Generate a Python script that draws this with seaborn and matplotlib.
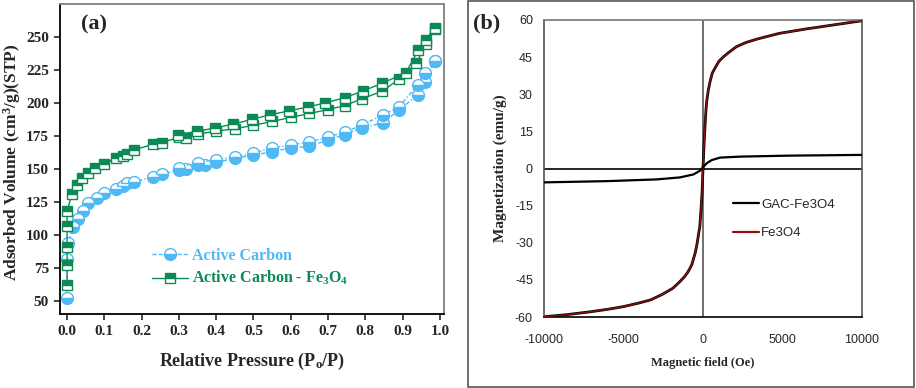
import numpy as np
import pandas as pd
import matplotlib
matplotlib.use("Agg")
import matplotlib.pyplot as plt
import seaborn as sns
from matplotlib.lines import Line2D
from matplotlib.patches import Rectangle

# ---- panel (a) : N2 isotherms ----
ac_p_ads = [0.0, 0.0, 0.003, 0.016, 0.03, 0.043, 0.057, 0.08, 0.10, 0.13, 0.15, 0.16, 0.18,
            0.23, 0.255, 0.30, 0.32, 0.35, 0.37, 0.40, 0.45, 0.50, 0.55, 0.60, 0.65, 0.70,
            0.745, 0.79, 0.847, 0.89, 0.94, 0.96, 0.987]
ac_v_ads = [52, 82, 94, 106, 112, 118, 124, 128, 132, 135, 137, 139, 140,
            144, 146, 149.5, 150, 153, 153, 155, 158, 160.5, 163, 166, 167, 172,
            176, 181, 185, 194.5, 206, 216, 232]
ac_p_des = [0.987, 0.96, 0.94, 0.89, 0.847, 0.79, 0.745, 0.70, 0.65, 0.60, 0.55, 0.50,
            0.45, 0.40, 0.35, 0.30]
ac_v_des = [232, 222.5, 213.5, 197, 191, 183, 178, 174, 170.5, 168, 166, 162,
            159, 157, 154.5, 151]

fe_p_ads = [0.0, 0.0, 0.0, 0.0, 0.0, 0.013, 0.027, 0.04, 0.057, 0.075, 0.10, 0.13, 0.15,
            0.16, 0.18, 0.23, 0.255, 0.30, 0.32, 0.35, 0.40, 0.45, 0.50, 0.55, 0.60, 0.65,
            0.70, 0.745, 0.79, 0.846, 0.89, 0.937, 0.962, 0.987]
fe_v_ads = [62, 77, 91, 107, 118, 131, 138, 143, 147, 150.5, 154, 158, 160,
            161.5, 164.5, 168.5, 170, 174, 173.5, 176.5, 178.5, 180.5, 183, 186, 189, 192,
            195, 198, 203, 209, 218, 230, 245, 256]
fe_p_des = [0.987, 0.962, 0.942, 0.909, 0.846, 0.793, 0.745, 0.692, 0.647, 0.596, 0.544,
            0.495, 0.446, 0.397, 0.348, 0.298]
fe_v_des = [257, 248, 240, 223, 215, 209, 204, 200, 197, 194, 191,
            187.5, 184, 181, 178.5, 176]

# ---- panel (b) : VSM loops ----
fe3o4_h = [-10000, -8500, -7100, -6000, -5000, -4000, -3300, -2600, -1900, -1500, -1200,
           -1000, -850, -700, -600, -500, -420, -350, -280, -200, -130, -60, 0,
           60, 130, 180, 230, 330, 440, 580, 750, 1000, 1300, 1600, 2100, 2700, 3400,
           4800, 6500, 8200, 10000]
fe3o4_m = [-59.9, -59.0, -57.9, -56.9, -55.8, -54.3, -53.1, -51.0, -48.4, -46.0, -44.0,
           -42.3, -40.7, -38.8, -36.5, -34.3, -32.0, -29.5, -26.5, -23.5, -17.0, -10.0, 0,
           9.0, 17.6, 23.0, 27.0, 31.5, 35.0, 38.5, 40.5, 43.3, 45.2, 46.8, 49.2, 50.9, 52.3,
           54.6, 56.4, 58.0, 59.7]
gac_h = [-10000, -6000, -2900, -1450, -600, -190, 0, 230, 550, 1070, 2330, 5470, 10000]
gac_m = [-5.6, -5.1, -4.4, -3.6, -2.4, -0.9, 0.5, 2.1, 3.4, 4.4, 4.8, 5.2, 5.5]

blue = "#4fb9f5"
green = "#0b8a55"
red = "#8b1010"

sns.set_style("white")
plt.rcParams["font.family"] = ["Liberation Serif", "DejaVu Serif"]
plt.rcParams["mathtext.default"] = "regular"
plt.rcParams["axes.unicode_minus"] = False

fig = plt.figure(figsize=(9.16, 3.88), dpi=100)
ax = fig.add_axes([60 / 916, 74 / 388, 384 / 916, 310 / 388])

circ = dict(marker="o", markersize=8.5, fillstyle="bottom", markerfacecolor=blue,
            markerfacecoloralt="white", markeredgecolor=blue, markeredgewidth=1.0)
sq = dict(marker="s", markersize=7.5, fillstyle="top", markerfacecolor=green,
          markerfacecoloralt="white", markeredgecolor=green, markeredgewidth=1.0)

for p, v in [(ac_p_ads, ac_v_ads), (ac_p_des, ac_v_des)]:
    d = pd.DataFrame({"p": p, "v": v})
    sns.lineplot(data=d, x="p", y="v", ax=ax, estimator=None, sort=False, color=blue,
                 linestyle=(0, (3, 1.5, 1, 1.5)), linewidth=1.0, **circ)
for p, v in [(fe_p_ads, fe_v_ads), (fe_p_des, fe_v_des)]:
    d = pd.DataFrame({"p": p, "v": v})
    sns.lineplot(data=d, x="p", y="v", ax=ax, estimator=None, sort=False, color=green,
                 linewidth=1.0, **sq)

ax.set_xlim(-0.019, 1.011)
ax.set_ylim(40, 275)
ax.set_xticks(np.arange(0, 1.01, 0.1))
ax.set_yticks(np.arange(50, 251, 25))
ax.set_xticklabels([f"{t:.1f}" for t in np.arange(0, 1.01, 0.1)])
for s in ["left", "bottom"]:
    ax.spines[s].set_color("black")
    ax.spines[s].set_linewidth(1.3)
for s in ["top", "right"]:
    ax.spines[s].set_color("#808080")
    ax.spines[s].set_linewidth(1.3)
ax.tick_params(axis="both", direction="out", length=4, width=1.2, labelsize=11, pad=4,
               bottom=True, left=True)
for lab in ax.get_xticklabels() + ax.get_yticklabels():
    lab.set_fontweight("bold")
ax.set_xlabel(r"Relative Pressure (P$_o$/P)", fontsize=13, fontweight="bold", labelpad=9)
ax.set_ylabel(r"Adsorbed Volume (cm$^3$/g)(STP)", fontsize=12.5, fontweight="bold")
ax.yaxis.set_label_coords(-0.096, 0.49)
ax.text(0.055, 0.965, "(a)", transform=ax.transAxes, fontsize=16, fontweight="bold",
        va="top", ha="left")

h_a = [Line2D([], [], color=blue, linestyle=(0, (3, 1.5)), linewidth=1.0, **circ),
       Line2D([], [], color=green, linewidth=1.0, **sq)]
leg = ax.legend(h_a, ["Active Carbon", r"Active Carbon - Fe$_3$O$_4$"],
                loc="center left", bbox_to_anchor=(0.22, 0.15), frameon=False,
                handlelength=2.2, handletextpad=0.3, labelspacing=0.35, borderpad=0,
                prop={"family": "Liberation Serif", "weight": "bold", "size": 11.5})
for t, c in zip(leg.get_texts(), [blue, green]):
    t.set_color(c)

# ---- panel (b) ----
bx = fig.add_axes([544 / 916, 71 / 388, 318 / 916, 297 / 388])
fig.patches.append(Rectangle((468 / 916, 1 / 388), 446 / 916, 386 / 388,
                             transform=fig.transFigure, fill=False,
                             edgecolor="#555555", linewidth=1.2))

bx.axhline(0, color="black", linewidth=1.2, zorder=1)
bx.axvline(0, color="#707070", linewidth=1.4, zorder=1)
sns.lineplot(x=fe3o4_h, y=fe3o4_m, ax=bx, estimator=None, sort=False, color="black",
             linewidth=2.0, zorder=2)
sns.lineplot(x=fe3o4_h, y=fe3o4_m, ax=bx, estimator=None, sort=False, color=red,
             linewidth=1.0, zorder=3)
sns.lineplot(x=gac_h, y=gac_m, ax=bx, estimator=None, sort=False, color="black",
             linewidth=1.6, zorder=3)

bx.set_xlim(-10000, 10000)
bx.set_ylim(-60, 60)
bx.set_xticks(np.arange(-10000, 10001, 5000))
bx.set_yticks(np.arange(-60, 61, 15))
for s in ["left", "bottom", "top", "right"]:
    bx.spines[s].set_linewidth(1.2)
bx.spines["bottom"].set_color("black")
bx.spines["left"].set_color("#555555")
bx.spines["top"].set_color("#777777")
bx.spines["right"].set_color("#555555")
sans = ["Liberation Sans Narrow", "Liberation Sans"]
bx.tick_params(axis="both", length=0, labelsize=9)
bx.tick_params(axis="x", pad=12)
bx.tick_params(axis="y", pad=8)
for lab in bx.get_xticklabels() + bx.get_yticklabels():
    lab.set_fontfamily(sans)
bx.set_xlabel("Magnetic field (Oe)", fontsize=9, fontweight="bold", labelpad=8)
bx.set_ylabel("Magnetization (emu/g)", fontsize=11, fontweight="bold", labelpad=6)
fig.text(473 / 916, 1 - 13 / 388, "(b)", fontsize=16, fontweight="bold", va="top", ha="left")

h_b = [Line2D([], [], color="black", linewidth=1.6), Line2D([], [], color=red, linewidth=1.6)]
bx.legend(h_b, ["GAC-Fe3O4", "Fe3O4"], loc="center left", bbox_to_anchor=(0.575, 0.33),
          frameon=False, handlelength=1.9, handletextpad=0.2, labelspacing=1.25,
          borderpad=0, prop={"family": sans, "size": 9.5})

fig.savefig("out.png", dpi=100)
